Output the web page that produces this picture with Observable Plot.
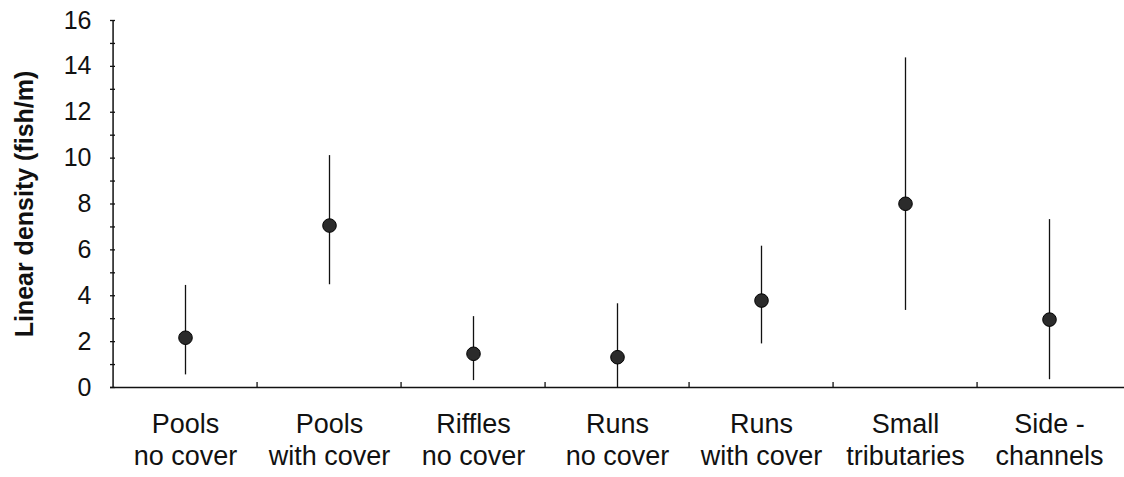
<!DOCTYPE html>
<html>
<head>
<meta charset="utf-8">
<script src="https://cdn.jsdelivr.net/npm/d3@7"></script>
<script src="https://cdn.jsdelivr.net/npm/@observablehq/plot@0.6"></script>
<style>
  html, body { margin: 0; padding: 0; background: #fff; }
  #chart svg { display: block; }
</style>
</head>
<body>
<div id="chart"></div>
<script>
// ---- data ----
const categories = [
  "Pools\nno cover",
  "Pools\nwith cover",
  "Riffles\nno cover",
  "Runs\nno cover",
  "Runs\nwith cover",
  "Small\ntributaries",
  "Side -\nchannels"
];
const meanDensity = [2.17, 7.06, 1.47, 1.32, 3.79, 8.01, 2.96];
const lowerBound  = [0.55, 4.48, 0.30, 0.00, 1.90, 3.36, 0.34];
const upperBound  = [4.45, 10.11, 3.09, 3.65, 6.16, 14.37, 7.32];
const yLabelTicks = [0, 2, 4, 6, 8, 10, 12, 14, 16];
const yMinorTicks = d3.range(0, 17, 1);
const yLabel = "Linear density (fish/m)";

const rows = categories.map((c, i) => ({
  cat: c, mean: meanDensity[i], lo: lowerBound[i], hi: upperBound[i]
}));

// ---- layout ----
const W = 1124, H = 477;
const mL = 110, mR = 0, mT = 20, mB = 90;
const bw = (W - mL - mR) / categories.length;
const font = "'Liberation Sans', Arial, Helvetica, sans-serif";
const ink = "#111";

const chart = Plot.plot({
  width: W,
  height: H,
  marginLeft: mL,
  marginRight: mR,
  marginTop: mT,
  marginBottom: mB,
  style: { fontFamily: font, background: "#fff", color: ink, overflow: "visible" },
  x: { type: "band", domain: categories, padding: 0 },
  y: { domain: [0, 16] },
  marks: [
    // y axis: inward ticks at every unit
    Plot.axisY(yMinorTicks, { tickSize: 5, dx: 5, tickFormat: () => "", label: null, stroke: ink, strokeWidth: 1.3 }),
    // y axis labels
    Plot.axisY(yLabelTicks, { tickSize: 0, tickPadding: 19, fontSize: 25, label: null, fill: ink, style: { letterSpacing: "0.8px" } }),
    // y axis line
    Plot.ruleX([categories[0]], { y1: 0, y2: 16, dx: -bw / 2, stroke: ink, strokeWidth: 1.5 }),
    // x axis line
    Plot.ruleY([0], { stroke: ink, strokeWidth: 1.5 }),
    // boundary ticks between categories
    Plot.ruleX(categories.slice(1), { x: d => d, y1: 0, y2: 0.22, dx: -bw / 2, stroke: ink, strokeWidth: 1.3 }),
    // x labels
    Plot.axisX({ tickSize: 0, tickPadding: 23, fontSize: 27, lineHeight: 1.19, label: null, fill: ink, style: { letterSpacing: "1px" } }),
    // y title
    Plot.text([yLabel], { frameAnchor: "left", textAnchor: "middle", lineAnchor: "middle", rotate: -90, dx: -86, fontSize: 25, fontWeight: "bold", fill: ink }),
    // error bars
    Plot.ruleX(rows, { x: "cat", y1: "lo", y2: "hi", stroke: ink, strokeWidth: 1.3 }),
    // means
    Plot.dot(rows, { x: "cat", y: "mean", r: 6.8, fill: "#2b2b2b", stroke: "#000", strokeWidth: 1 })
  ]
});
document.getElementById("chart").appendChild(chart);
</script>
</body>
</html>
